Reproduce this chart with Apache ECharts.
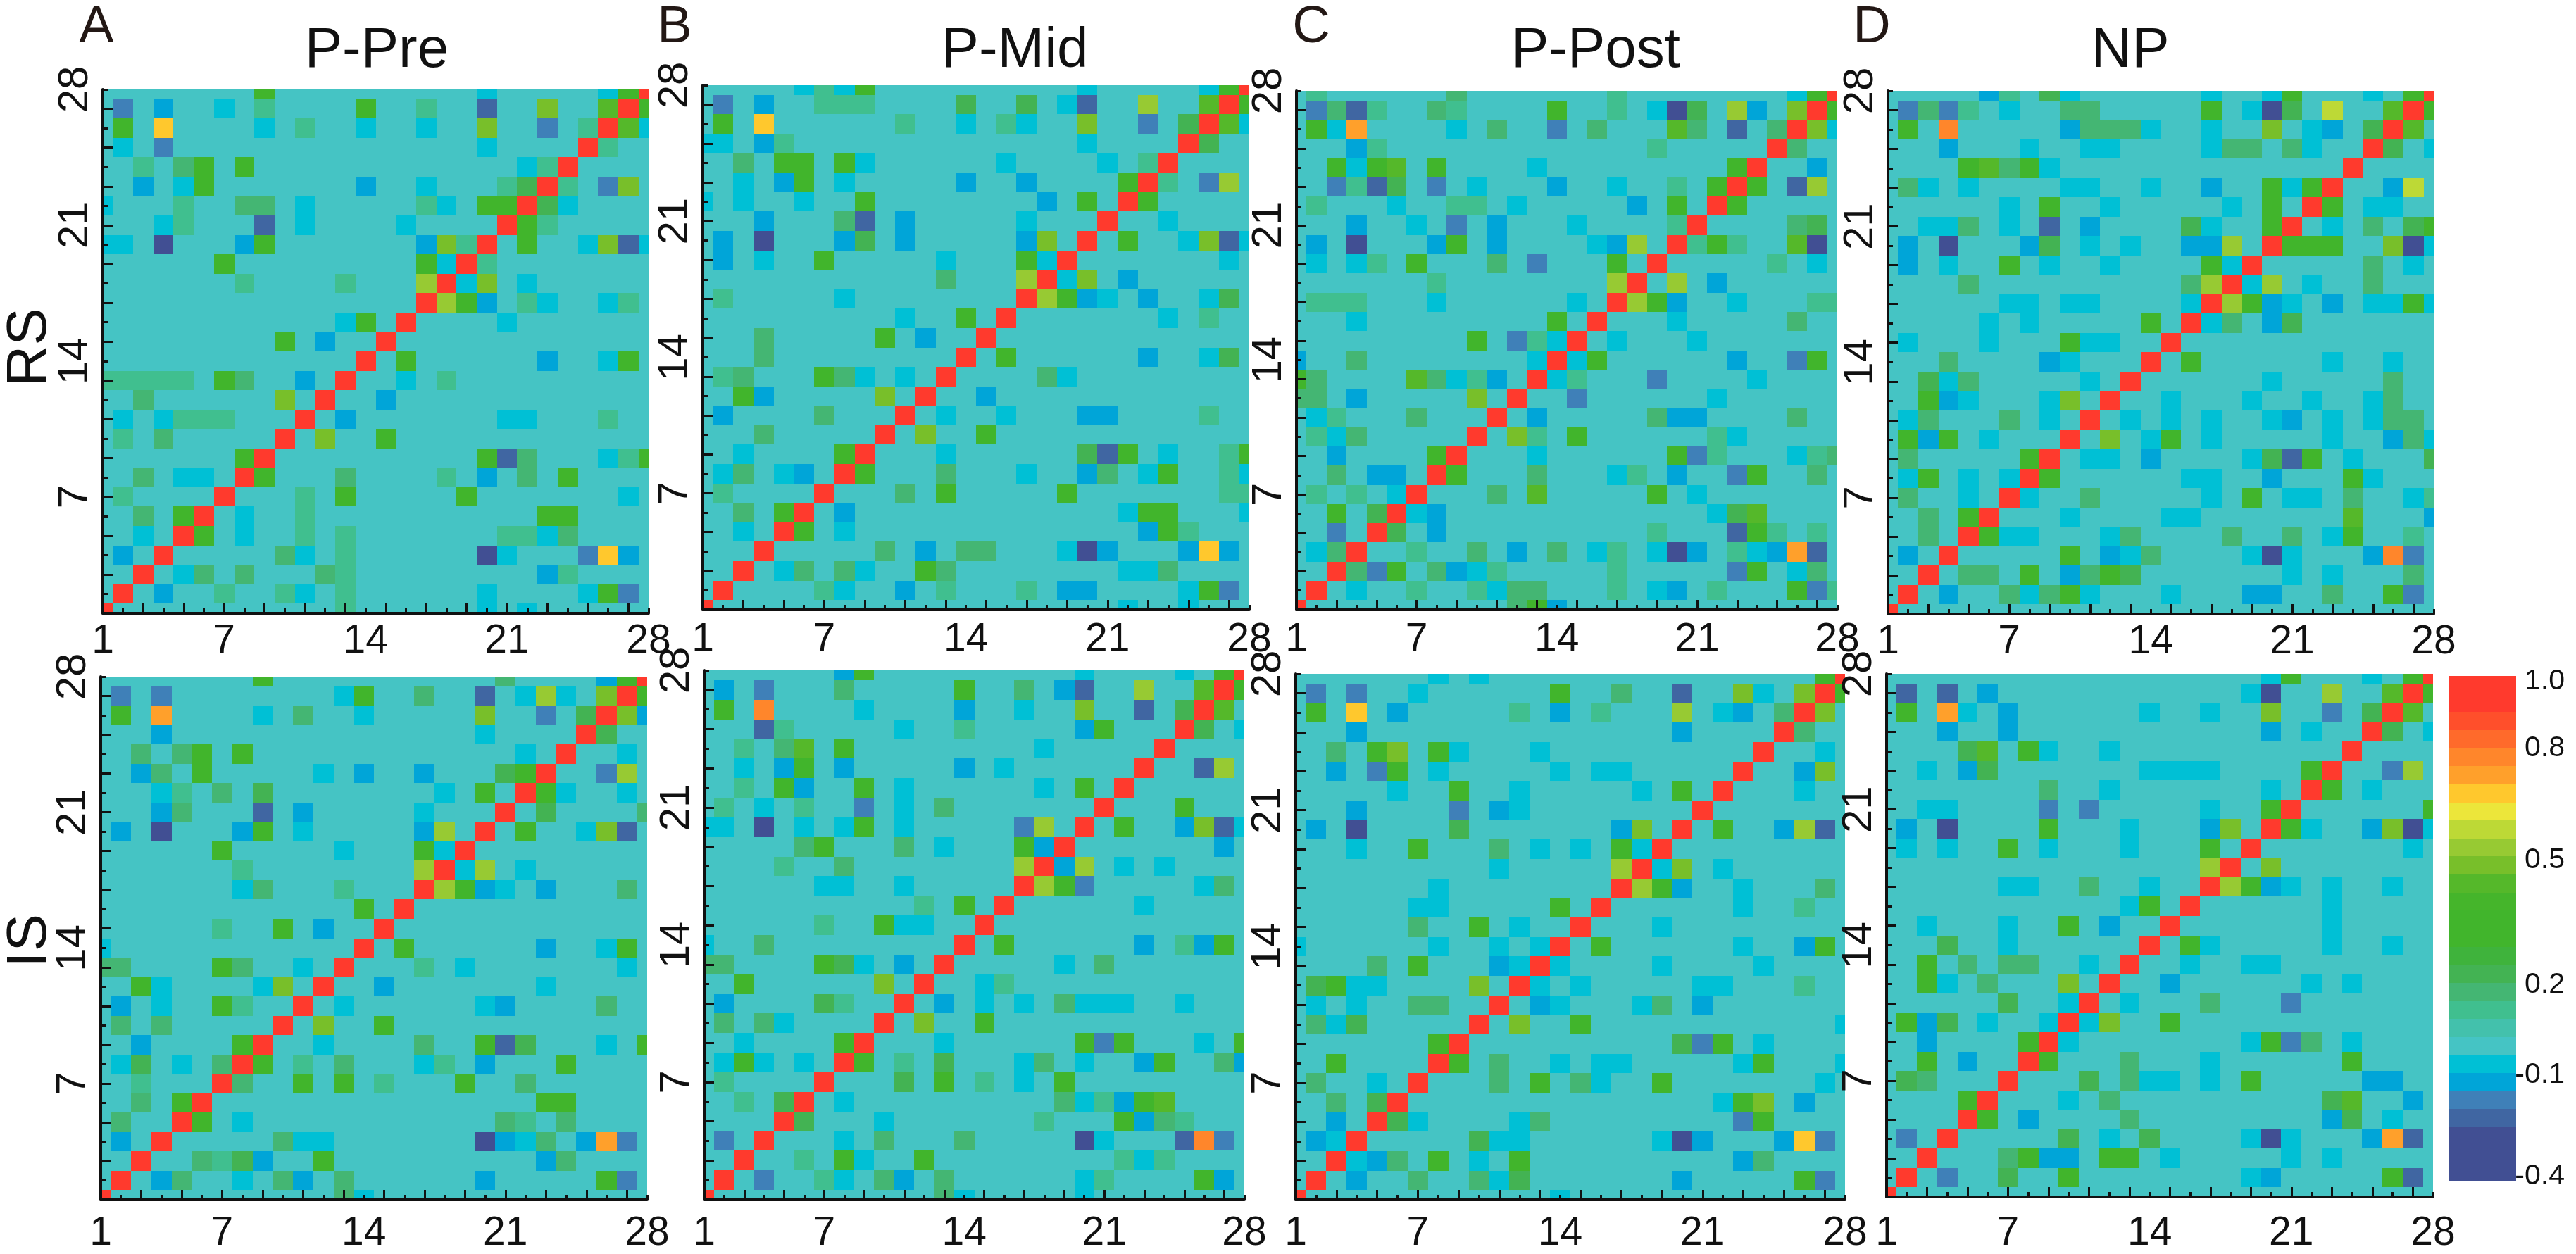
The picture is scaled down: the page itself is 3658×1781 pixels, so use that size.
<!DOCTYPE html>
<html>
<head>
<meta charset="utf-8">
<title>Correlation matrices</title>
<script src="https://cdn.jsdelivr.net/npm/echarts@6/dist/echarts.min.js"></script>
<style>
html, body { margin: 0; padding: 0; background: #fff; }
#chart { width: 3658px; height: 1781px; }
</style>
</head>
<body>
<div id="chart"></div>
<script>
// colour levels
const N = -0.3, M = -0.22, B = -0.18, A = -0.12, C = -0.07;
const T = 0.07, S = 0.12, E = 0.17, G = 0.3, H = 0.42, L = 0.47, Y = 0.52, V = 0.57;
const GOLD = 0.67, ORG = 0.72, ORD = 0.77;

const background = -0.02;
const diagonal = 1;
const xTickLabels = [1, 7, 14, 21, 28];
const yTickLabels = [7, 14, 21, 28];

// each row: [row, col, value, col, value, ...], only cells left of the diagonal, the rest is mirrored
const pPreRs = [
    [28, 9,G, 20,C, 26,C, 27,G],
    [27, 2,B, 4,A, 7,C, 9,T, 14,G, 17,T, 20,M, 23,L, 26,H],
    [26, 2,G, 4,GOLD, 9,C, 11,T, 14,C, 17,C, 20,L, 23,B, 25,T],
    [25, 2,C, 4,B, 20,C],
    [24, 3,T, 5,S, 6,G, 8,G, 22,C, 23,T],
    [23, 3,A, 5,C, 6,G, 14,A, 17,C, 21,T, 22,E],
    [22, 1,C, 5,T, 8,S, 9,S, 11,C, 17,T, 18,C, 20,G, 21,G],
    [21, 4,C, 5,T, 9,M, 11,C, 16,C],
    [20, 1,C, 2,C, 4,N, 8,A, 9,G, 17,A, 18,L, 19,T],
    [19, 7,G, 17,G, 18,C],
    [18, 8,T, 13,T, 17,Y],
    [16, 13,C, 14,G],
    [15, 10,G, 12,A],
    [13, 1,T, 2,T, 3,T, 4,T, 5,T, 7,G, 8,S, 11,A],
    [12, 3,S, 10,L],
    [11, 2,C, 4,C, 5,T, 6,T, 7,T],
    [10, 2,T, 4,S],
    [9, 8,G],
    [8, 3,S, 5,C, 6,C],
    [7, 2,T],
    [6, 3,S, 5,G],
    [5, 3,C],
    [4, 2,A]
];
const pMidRs = [
    [28, 6,C, 7,T, 8,C, 9,G, 20,C, 26,C, 27,G],
    [27, 2,B, 4,A, 7,T, 8,T, 9,T, 14,E, 17,E, 19,C, 20,M, 23,Y, 26,H],
    [26, 2,G, 4,GOLD, 11,T, 14,C, 16,T, 17,C, 20,L, 23,B, 25,E],
    [25, 1,C, 2,C, 4,A, 5,T, 20,C],
    [24, 3,S, 5,G, 6,G, 8,G, 9,C, 16,C, 21,C, 23,T],
    [23, 3,C, 5,A, 6,G, 8,C, 14,A, 17,A, 22,G],
    [22, 1,C, 3,C, 6,C, 9,G, 18,A, 20,G],
    [21, 4,A, 8,S, 9,M, 11,A, 17,C],
    [20, 2,A, 4,N, 8,A, 9,E, 11,A, 17,A, 18,L],
    [19, 2,A, 4,C, 7,G, 13,C, 17,G, 18,C],
    [18, 13,S, 17,Y],
    [17, 2,T, 8,C],
    [16, 11,C, 14,G],
    [15, 4,S, 10,G, 12,A],
    [14, 4,S],
    [13, 2,T, 3,S, 7,G, 8,S, 9,C, 11,C],
    [12, 3,G, 4,A, 10,L],
    [11, 2,A, 7,S],
    [10, 4,S],
    [9, 3,C, 8,G],
    [8, 2,C, 3,S, 5,C, 6,A],
    [7, 2,T],
    [6, 3,S, 5,G],
    [5, 3,C]
];
const pPostRs = [
    [28, 2,T, 9,S, 17,T, 26,C, 27,G],
    [27, 2,B, 3,S, 4,M, 5,T, 8,S, 9,T, 14,G, 17,T, 19,C, 20,N, 21,E, 23,Y, 24,A, 26,L],
    [26, 2,G, 3,C, 4,ORG, 9,C, 11,S, 14,B, 16,S, 20,H, 21,S, 23,M, 25,S],
    [25, 4,A, 5,T, 19,T],
    [24, 3,G, 4,C, 5,G, 6,H, 8,G, 13,C, 23,G],
    [23, 3,B, 4,T, 5,M, 6,E, 8,B, 10,C, 14,A, 17,C, 20,T, 22,G],
    [22, 2,T, 6,C, 9,T, 10,T, 12,C, 18,A, 20,G],
    [21, 4,A, 7,C, 9,B, 11,A, 15,C, 20,T],
    [20, 2,A, 4,N, 8,A, 9,G, 11,A, 16,C, 17,A, 18,Y],
    [19, 2,C, 4,C, 5,T, 7,G, 11,S, 13,B, 17,G],
    [18, 8,T, 17,Y],
    [17, 2,T, 3,T, 4,T, 8,C, 15,C],
    [16, 4,C, 14,G],
    [15, 10,G, 12,B, 13,T, 14,C],
    [14, 1,A, 4,S, 13,C],
    [13, 1,G, 2,S, 7,H, 8,S, 9,C, 10,T, 11,A],
    [12, 1,S, 2,S, 4,A, 10,L],
    [11, 2,C, 3,T, 7,S],
    [10, 2,T, 3,C, 4,S],
    [9, 3,A, 8,G],
    [8, 3,S, 5,A, 6,A],
    [7, 2,T, 4,T, 6,C],
    [6, 3,G, 5,E],
    [5, 3,B],
    [4, 2,C, 3,S]
];
const npRs = [
    [28, 6,A, 7,T, 9,E, 10,C, 17,C, 20,C, 21,G, 25,C, 27,G],
    [27, 2,B, 3,S, 4,B, 5,T, 7,C, 10,S, 11,S, 17,G, 19,C, 20,N, 21,E, 23,V, 26,H],
    [26, 2,G, 4,ORD, 10,A, 11,S, 12,S, 13,S, 14,C, 17,C, 20,L, 22,C, 23,A, 25,E],
    [25, 4,A, 8,C, 11,C, 12,C, 17,C, 18,S, 19,S, 21,S, 22,C],
    [24, 5,G, 6,H, 7,S, 8,G, 9,C],
    [23, 2,S, 3,C, 5,C, 10,C, 11,C, 14,C, 17,A, 20,G, 21,C, 22,G],
    [22, 7,C, 9,G, 12,C, 18,C, 20,G],
    [21, 3,C, 4,C, 5,S, 7,C, 9,M, 11,A, 16,E, 17,C, 20,G],
    [20, 2,A, 4,N, 8,A, 9,E, 11,C, 13,C, 16,A, 17,A, 18,Y],
    [19, 2,A, 4,C, 7,G, 9,C, 12,C, 17,G, 18,C],
    [18, 5,S, 16,S, 17,Y],
    [17, 7,C, 8,C, 10,C, 11,C, 16,C],
    [16, 6,C, 8,C, 14,G],
    [15, 2,C, 6,C, 10,G, 11,C, 12,C],
    [14, 4,S, 9,A, 10,C],
    [13, 3,E, 4,C, 5,S, 11,C],
    [12, 3,G, 4,A, 5,C, 9,C, 10,L],
    [11, 2,C, 3,S, 7,S, 9,C],
    [10, 2,G, 3,A, 4,G, 6,C],
    [9, 2,S, 8,G],
    [8, 2,C, 3,G, 5,C, 7,C],
    [7, 2,S, 5,C],
    [6, 3,S, 5,G],
    [5, 3,S],
    [4, 2,A]
];
const pPreIs = [
    [28, 9,G, 21,S, 26,A, 27,G],
    [27, 2,B, 4,B, 13,C, 14,G, 17,S, 20,M, 22,C, 23,Y, 24,C, 26,L],
    [26, 2,G, 4,ORG, 9,C, 11,S, 14,C, 20,L, 23,B, 25,E],
    [25, 4,A, 20,C],
    [24, 3,S, 5,S, 6,G, 8,G, 22,C],
    [23, 3,A, 4,S, 6,G, 12,C, 14,A, 17,A, 21,E, 22,G],
    [22, 4,C, 5,T, 7,S, 9,E, 18,C, 20,G],
    [21, 4,A, 5,S, 9,M, 11,A, 17,C],
    [20, 2,A, 4,N, 8,A, 9,G, 11,C, 17,A, 18,Y],
    [19, 7,G, 13,C, 17,G, 18,C],
    [18, 8,T, 17,Y],
    [17, 8,C, 9,S, 13,T],
    [16, 14,G],
    [15, 7,T, 10,G, 12,A],
    [14, 1,C],
    [13, 1,S, 2,S, 7,G, 8,S, 11,C],
    [12, 3,G, 4,C, 9,C, 10,L],
    [11, 2,A, 4,C, 7,G, 8,T],
    [10, 2,S, 4,S],
    [9, 3,A, 8,G],
    [8, 2,C, 3,E, 5,C, 7,S],
    [7, 3,T],
    [6, 3,S, 5,G],
    [5, 2,S],
    [4, 2,A]
];
const pMidIs = [
    [28, 8,A, 9,G, 20,C, 25,C, 27,G],
    [27, 2,A, 4,B, 8,S, 14,G, 17,S, 19,A, 20,M, 23,Y, 26,H],
    [26, 2,G, 4,ORD, 9,C, 14,A, 17,C, 20,L, 23,M, 25,E],
    [25, 4,M, 5,T, 11,C, 14,T, 20,A, 21,G],
    [24, 3,T, 5,S, 6,H, 8,G, 18,C],
    [23, 3,C, 5,A, 6,G, 8,A, 14,A, 16,C],
    [22, 3,T, 5,G, 6,A, 9,G, 11,C, 18,C, 20,G],
    [21, 2,T, 4,C, 6,T, 9,B, 11,C, 13,S],
    [20, 1,C, 2,C, 4,N, 6,C, 8,C, 9,G, 11,C, 17,B, 18,Y],
    [19, 6,S, 7,G, 11,S, 13,C, 17,G, 18,A],
    [18, 5,T, 8,S, 17,Y],
    [17, 7,C, 8,C, 11,C],
    [16, 12,T, 14,G],
    [15, 7,T, 10,G, 11,C, 12,C],
    [14, 1,C, 4,S],
    [13, 1,S, 2,S, 7,G, 8,E, 9,C, 11,A],
    [12, 3,G, 10,L],
    [11, 2,A, 7,E, 8,T],
    [10, 2,S, 4,S, 5,C],
    [9, 3,C, 8,G],
    [8, 2,C, 3,G, 4,C, 6,C],
    [7, 2,T],
    [6, 3,T, 5,E],
    [4, 2,B]
];
const pPostIs = [
    [28, 8,C, 10,C, 27,G],
    [27, 2,B, 4,B, 7,C, 14,G, 17,S, 20,M, 23,L, 24,C, 26,L],
    [26, 2,G, 4,GOLD, 6,A, 12,T, 14,A, 16,T, 20,Y, 22,C, 23,A, 25,S],
    [25, 4,A, 20,A],
    [24, 3,S, 5,G, 6,L, 8,G, 9,C, 13,C],
    [23, 3,A, 5,B, 6,G, 8,C, 14,C, 16,C, 17,C],
    [22, 6,C, 9,G, 12,C, 18,C, 20,G],
    [21, 4,A, 9,B, 11,A, 12,C],
    [20, 2,A, 4,N, 9,E, 17,A, 18,L],
    [19, 4,C, 7,G, 11,S, 13,C, 15,C, 17,G, 18,C],
    [18, 11,C, 17,Y],
    [17, 8,C],
    [16, 7,C, 8,C, 14,G],
    [15, 7,S, 10,G, 12,C],
    [14, 1,C, 8,C, 11,C, 13,C],
    [13, 5,S, 7,G, 11,A, 12,C],
    [12, 2,E, 3,G, 4,C, 5,C, 10,L],
    [11, 2,C, 4,C, 7,S, 8,S],
    [10, 2,S, 3,C, 4,E],
    [9, 8,G],
    [8, 3,G],
    [7, 2,S, 5,C],
    [6, 3,S, 5,E],
    [5, 3,A],
    [4, 2,A, 3,C]
];
const npIs = [
    [28, 20,C, 21,G, 25,C, 27,G],
    [27, 2,M, 4,M, 6,A, 19,C, 20,N, 23,Y, 26,H],
    [26, 2,G, 4,ORG, 5,C, 7,A, 14,C, 17,C, 20,L, 23,B, 25,E],
    [25, 4,A, 7,A, 20,A, 22,C],
    [24, 5,E, 6,H, 8,G, 9,C, 12,C],
    [23, 3,C, 5,A, 6,E, 14,C, 15,C, 16,C, 17,C, 22,G],
    [22, 9,S, 12,C, 20,C],
    [21, 3,C, 4,C, 9,B, 11,B, 17,C, 20,G],
    [20, 2,A, 4,N, 9,G, 13,C, 17,A, 18,L],
    [19, 2,C, 4,C, 7,G, 9,C, 13,C, 17,G],
    [18, 17,Y],
    [17, 7,C, 8,C, 11,S, 14,C],
    [16, 13,C, 14,G],
    [15, 3,C, 7,C, 10,G, 12,A],
    [14, 4,E, 7,C],
    [13, 3,G, 5,S, 7,S, 8,S, 11,C],
    [12, 3,G, 4,C, 6,S, 10,L],
    [11, 7,E, 10,C],
    [10, 2,G, 3,A, 4,E, 6,C, 9,C],
    [9, 3,A, 8,G],
    [8, 3,G, 5,A],
    [7, 2,E, 3,S],
    [6, 5,G],
    [4, 2,B]
];

// one colour per 0.05 step, from -0.4 up to 1.0
const levelColors = [
    '#414f93', '#414f93', '#414f93', '#4066a2', '#3f80b8', '#00a5d8', '#00c0d5', '#45c4c4',
    '#43c1ac', '#40bf8f', '#44b673', '#43b353', '#3fb33c', '#41b52c', '#41b52c', '#45b52b',
    '#55b82a', '#78bf2a', '#97ca33', '#bdd936', '#ece63a', '#ffc82d', '#ffa02b', '#ff862b',
    '#ff6a2b', '#ff4f2b', '#ff3a2d', '#ff3a2d'
];
const levelStarts = levelColors.map((c, i) => +(-0.4 + i * 0.05).toFixed(2));
const colorbarLabels = ['1.0', '0.8', '0.5', '0.2', '-0.1', '-0.4'];
const colorbarLabelAt = [0.985, 0.8, 0.49, 0.145, -0.105, -0.385];

const panels = [
    { rows: pPreRs, left: 146, top: 127, right: 921, bottom: 871, labelMargin: 12 },
    { rows: pMidRs, left: 998, top: 121, right: 1774, bottom: 866, labelMargin: 15 },
    { rows: pPostRs, left: 1841, top: 129, right: 2609, bottom: 866, labelMargin: 15 },
    { rows: npRs, left: 2681, top: 129, right: 3456, bottom: 872, labelMargin: 12 },
    { rows: pPreIs, left: 143, top: 961, right: 919, bottom: 1705, labelMargin: 20 },
    { rows: pMidIs, left: 1000, top: 952, right: 1767, bottom: 1707, labelMargin: 20 },
    { rows: pPostIs, left: 1840, top: 957, right: 2620, bottom: 1706, labelMargin: 20 },
    { rows: npIs, left: 2679, top: 957, right: 3455, bottom: 1702, labelMargin: 24 }
];

const texts = [
    { text: 'A', x: 137, y: 40, size: 74, fill: '#231815' },
    { text: 'B', x: 958, y: 40, size: 74, fill: '#231815' },
    { text: 'C', x: 1862, y: 40, size: 74, fill: '#231815' },
    { text: 'D', x: 2658, y: 40, size: 74, fill: '#231815' },
    { text: 'P-Pre', x: 535, y: 73, size: 80, fill: '#111' },
    { text: 'P-Mid', x: 1441, y: 73, size: 80, fill: '#111' },
    { text: 'P-Post', x: 2266, y: 73, size: 80, fill: '#111' },
    { text: 'NP', x: 3025, y: 73, size: 80, fill: '#111' },
    { text: 'RS', x: 43, y: 493, size: 80, fill: '#111', rotation: Math.PI / 2 },
    { text: 'IS', x: 43, y: 1336, size: 80, fill: '#111', rotation: Math.PI / 2 }
];

const FONT = '"Liberation Sans", Arial, sans-serif';
const oddTicks = [];
const evenTicks = [];
for (let v = 1; v <= 28; v++) {
    (v % 2 ? oddTicks : evenTicks).push(v);
}

function colorOf(value) {
    let idx = Math.floor((value + 0.4) / 0.05);
    idx = Math.max(0, Math.min(levelColors.length - 1, idx));
    return levelColors[idx];
}

function buildCells(rows) {
    const matrix = {};
    rows.forEach(row => {
        for (let k = 1; k < row.length; k += 2) {
            matrix[row[0] + '_' + row[k]] = row[k + 1];
            matrix[row[k] + '_' + row[0]] = row[k + 1];
        }
    });
    const cells = [];
    for (let y = 1; y <= 28; y++) {
        for (let x = 1; x <= 28; x++) {
            const key = y + '_' + x;
            const v = x === y ? diagonal : (key in matrix ? matrix[key] : background);
            cells.push([x, y, v]);
        }
    }
    return cells;
}

// the axes run 1..28 through the cell centres, so the outer cells come out half size
function renderCell(params, api) {
    const x = api.value(0);
    const y = api.value(1);
    const p0 = api.coord([x - 0.5, y + 0.5]).map(Math.round);
    const p1 = api.coord([x + 0.5, y - 0.5]).map(Math.round);
    const shape = echarts.graphic.clipRectByRect(
        { x: p0[0], y: p0[1], width: p1[0] - p0[0], height: p1[1] - p0[1] },
        { x: params.coordSys.x, y: params.coordSys.y, width: params.coordSys.width, height: params.coordSys.height }
    );
    if (!shape) return null;
    return { type: 'rect', shape: shape, style: { fill: colorOf(api.value(2)) } };
}

function renderLevel(params, api) {
    const start = api.value(1);
    const p0 = api.coord([0, start + 0.05]).map(Math.round);
    const p1 = api.coord([1, start]).map(Math.round);
    return {
        type: 'rect',
        shape: { x: p0[0], y: p0[1], width: p1[0] - p0[0], height: p1[1] - p0[1] },
        style: { fill: colorOf(start + 0.01) }
    };
}

function axisBase(gridIndex, extra) {
    return Object.assign({
        type: 'value',
        gridIndex: gridIndex,
        min: 1,
        max: 28,
        interval: 1,
        z: 10,
        splitLine: { show: false }
    }, extra);
}

const grid = [];
const xAxis = [];
const yAxis = [];
const series = [];

panels.forEach((p, i) => {
    grid.push({ left: p.left, top: p.top, width: p.right - p.left, height: p.bottom - p.top });
    const line = { show: true, onZero: false, lineStyle: { color: '#111', width: 4 } };
    const longTick = { show: true, inside: true, length: 14, customValues: oddTicks, lineStyle: { color: '#111', width: 3 } };
    xAxis.push(axisBase(i, {
        position: 'bottom',
        axisLine: line,
        axisTick: longTick,
        axisLabel: { show: true, customValues: xTickLabels, margin: p.labelMargin, fontFamily: FONT, fontSize: 57, color: '#111' }
    }));
    yAxis.push(axisBase(i, {
        position: 'left',
        axisLine: line,
        axisTick: longTick,
        axisLabel: { show: true, customValues: yTickLabels, rotate: 90, margin: 9, fontFamily: FONT, fontSize: 60, color: '#111' }
    }));
    series.push({
        type: 'custom',
        xAxisIndex: i,
        yAxisIndex: i,
        renderItem: renderCell,
        encode: { x: 0, y: 1 },
        data: buildCells(p.rows),
        silent: true
    });
});

// second set of axes only carries the short ticks
panels.forEach((p, i) => {
    const shortTick = { show: true, inside: true, length: 7, customValues: evenTicks, lineStyle: { color: '#111', width: 3 } };
    xAxis.push(axisBase(i, {
        position: 'bottom',
        axisLine: { show: false, onZero: false },
        axisTick: shortTick,
        axisLabel: { show: false }
    }));
    yAxis.push(axisBase(i, {
        position: 'left',
        axisLine: { show: false, onZero: false },
        axisTick: shortTick,
        axisLabel: { show: false }
    }));
});

// colour bar
const barIndex = panels.length;
grid.push({ left: 3478, top: 960, width: 95, height: 718 });
xAxis.push({ type: 'value', gridIndex: barIndex, min: 0, max: 1, show: false });
yAxis.push({
    type: 'value',
    gridIndex: barIndex,
    min: -0.4,
    max: 1,
    position: 'right',
    splitLine: { show: false },
    axisLine: { show: false },
    axisTick: { show: false },
    axisLabel: {
        show: true,
        customValues: colorbarLabelAt,
        margin: 69,
        align: 'right',
        fontFamily: FONT,
        fontSize: 41,
        color: '#111',
        formatter: value => colorbarLabels[colorbarLabelAt.indexOf(value)]
    }
});
series.push({
    type: 'custom',
    xAxisIndex: panels.length * 2,
    yAxisIndex: panels.length * 2,
    renderItem: renderLevel,
    encode: { y: 1 },
    data: levelStarts.map(s => [0, s]),
    silent: true
});

const graphic = texts.map(t => ({
    type: 'text',
    x: t.x,
    y: t.y,
    rotation: t.rotation || 0,
    style: {
        text: t.text,
        fill: t.fill,
        font: t.size + 'px ' + FONT,
        align: 'center',
        verticalAlign: 'middle'
    }
}));

const myChart = echarts.init(document.getElementById('chart'));
myChart.setOption({
    animation: false,
    backgroundColor: '#fff',
    grid: grid,
    xAxis: xAxis,
    yAxis: yAxis,
    series: series,
    graphic: graphic
});
</script>
</body>
</html>
